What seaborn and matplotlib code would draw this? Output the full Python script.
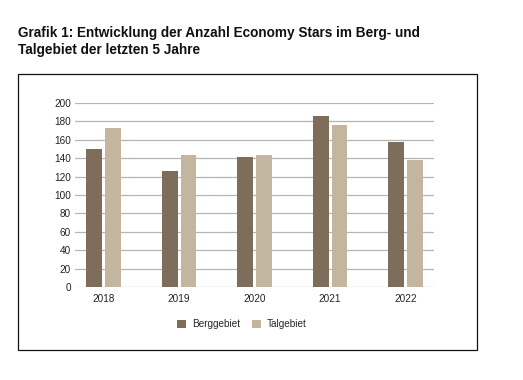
import matplotlib
matplotlib.use("Agg")
import matplotlib.pyplot as plt
import pandas as pd
import seaborn as sns
from matplotlib.patches import Rectangle

years = ["2018", "2019", "2020", "2021", "2022"]
berggebiet = [150, 126, 141, 186, 158]
talgebiet = [173, 143, 144, 176, 138]
regions = ["Berggebiet", "Talgebiet"]
colors = ["#7d6d5a", "#c3b59e"]

data = pd.DataFrame({
    "year": years * 2,
    "value": berggebiet + talgebiet,
    "region": [regions[0]] * 5 + [regions[1]] * 5,
})

sns.set_style("white")
plt.rcParams["font.family"] = ["Liberation Sans", "DejaVu Sans"]

fig = plt.figure(figsize=(5.23, 3.80), dpi=100)
ax = fig.add_axes([75 / 523, 1 - 287 / 380, 359 / 523, 184 / 380])

sns.barplot(
    data=data, x="year", y="value", hue="region",
    palette=colors, width=0.5, gap=0.16, ax=ax, legend=True,
    linewidth=0, saturation=1,
)

ax.set_ylim(0, 200)
ax.set_yticks(range(0, 201, 20))
ax.set_xlim(-0.377, 4.375)
ax.yaxis.grid(True, color="#b5b5b5", linewidth=0.9)
ax.set_axisbelow(True)
for s in ax.spines.values():
    s.set_visible(False)
ax.tick_params(axis="both", labelsize=7.2, colors="#222222", length=0, pad=3)
ax.tick_params(axis="x", pad=5)
ax.set_xlabel("")
ax.set_ylabel("")

ax.legend(
    loc="upper center", bbox_to_anchor=(0.465, -0.125), ncol=2, frameon=False,
    fontsize=7.2, handlelength=0.85, handleheight=0.85, handletextpad=0.6,
    columnspacing=1.2, title=None,
)

fig.patches.append(Rectangle((18 / 523, 1 - 350 / 380), 459 / 523, 276 / 380,
                             transform=fig.transFigure, fill=False,
                             edgecolor="#111111", linewidth=0.9))

fig.text(18 / 523, 1 - 54 / 380,
         "Grafik 1: Entwicklung der Anzahl Economy Stars im Berg- und\nTalgebiet der letzten 5 Jahre",
         fontsize=9.8, fontweight="bold", va="baseline", linespacing=1.3,
         color="#111111")

fig.savefig("out.png", dpi=100)
